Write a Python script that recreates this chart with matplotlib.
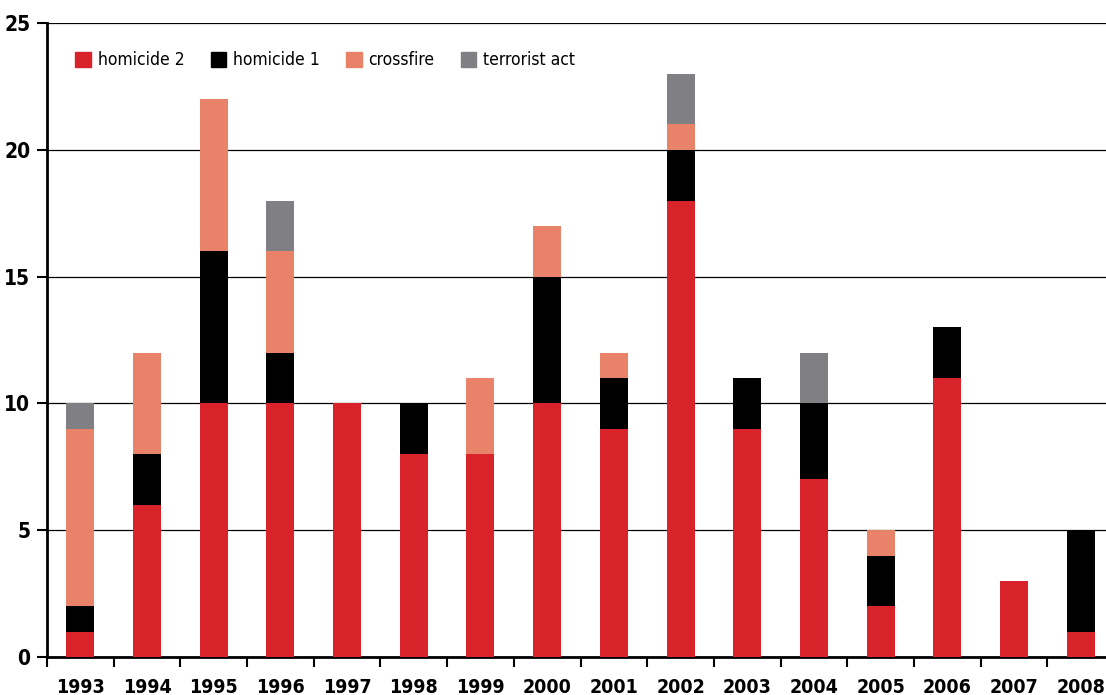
import numpy as np
import matplotlib.pyplot as plt
from matplotlib.patches import Patch

years = ['1993', '1994', '1995', '1996', '1997', '1998', '1999', '2000',
         '2001', '2002', '2003', '2004', '2005', '2006', '2007', '2008']
homicide2 = [1, 6, 10, 10, 10, 8, 8, 10, 9, 18, 9, 7, 2, 11, 3, 1]
homicide1 = [1, 2, 6, 2, 0, 2, 0, 5, 2, 2, 2, 3, 2, 2, 0, 4]
crossfire = [7, 4, 6, 4, 0, 0, 3, 2, 1, 1, 0, 0, 1, 0, 0, 0]
terrorist = [1, 0, 0, 2, 0, 0, 0, 0, 0, 2, 0, 2, 0, 0, 0, 0]

colors = {'homicide 2': '#d9232a', 'homicide 1': '#000000',
          'crossfire': '#e8836a', 'terrorist act': '#808084'}

plt.rcParams['font.family'] = ['DejaVu Sans']
plt.rcParams['font.stretch'] = 'condensed'

fig = plt.figure(figsize=(11.06, 6.95), dpi=100)
ax = fig.add_axes([47 / 1106, 1 - 657 / 695, (1114 - 47) / 1106, (657 - 23) / 695])

x = np.arange(len(years))
w = 0.42
bottom = np.zeros(len(years))
for name, vals in [('homicide 2', homicide2), ('homicide 1', homicide1),
                   ('crossfire', crossfire), ('terrorist act', terrorist)]:
    vals = np.array(vals)
    ax.bar(x, vals, w, bottom=bottom, color=colors[name], zorder=3)
    bottom += vals

ax.set_xlim(-0.5, len(years) - 0.5)
ax.set_ylim(0, 25)
ax.set_yticks([0, 5, 10, 15, 20, 25])
ax.set_yticklabels(['0', '5', '10', '15', '20', '25'], fontsize=15, fontweight='bold')
ax.yaxis.grid(True, color='black', linewidth=0.9, zorder=1)
ax.set_axisbelow(True)

ax.set_xticks(np.arange(len(years) + 1) - 0.5)
ax.set_xticklabels([])
ax.set_xticks(x, minor=True)
ax.set_xticklabels(years, minor=True, fontsize=14, fontweight='bold')
ax.tick_params(axis='x', which='minor', length=0, pad=15)
ax.tick_params(axis='x', which='major', length=7, width=1.5, direction='out')
ax.tick_params(axis='y', length=7, width=1.5, direction='out', pad=5)

for s in ['top', 'right']:
    ax.spines[s].set_visible(False)
for s in ['left', 'bottom']:
    ax.spines[s].set_linewidth(2)

handles = [Patch(color=c, label=n) for n, c in colors.items()]
ax.legend(handles=handles, loc='upper left', ncol=4, frameon=False,
          bbox_to_anchor=(0.012, 0.98), fontsize=12.5, handlelength=0.9,
          handleheight=0.9, handletextpad=0.4, columnspacing=1.5)

fig.savefig('out.png', dpi=100)
